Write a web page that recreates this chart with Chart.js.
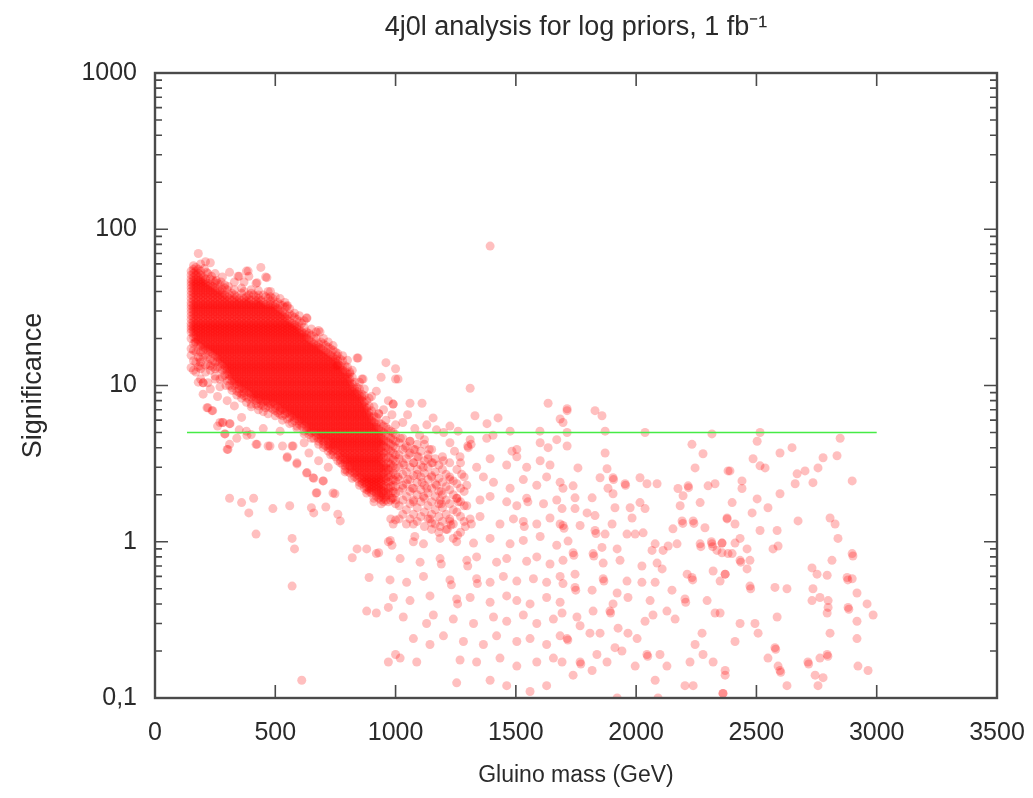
<!DOCTYPE html>
<html>
<head>
<meta charset="utf-8">
<script src="https://cdn.jsdelivr.net/npm/chart.js@4/dist/chart.umd.min.js"></script>
<style>
  html, body { margin: 0; padding: 0; background: #ffffff; }
  #wrap { width: 1033px; height: 798px; }
</style>
</head>
<body>
<div id="wrap"><canvas id="c" width="1033" height="798"></canvas></div>
<script>
// ---------------- DATA ----------------
const chartTitle = '4j0l analysis for log priors, 1 fb\u207B\u00B9';
const xAxisTitle = 'Gluino mass (GeV)';
const yAxisTitle = 'Significance';

const xTickValues = [0, 500, 1000, 1500, 2000, 2500, 3000, 3500];
const yTickValues = [0.1, 1, 10, 100, 1000];
const yTickLabels = ['0,1', '1', '10', '100', '1000'];

// 5-sigma discovery threshold line
const thresholdMass = [133, 3000];
const thresholdSig = [5, 5];

// Dense part of the cloud: [gluino mass, [significance values]]
const denseColumns = [
  [150, [54,51,48,46,44,42,40,38,36,34,32.5,31,29.5,28,26.5,25,24,23,22,20,17.2,15.6,13]],
  [160, [58.5,55.5,52.5,49.5,47,45,43,41,39,37,35,33,31.7,30.2,28.7,27.2,25.7,24.5,23.5,22.5,21.5,20.5,18.5,16.8,14.4,12.5]],
  [170, [57,54,51,48,46,44,42,40,38,36,34,32.5,31,29.5,28,26.5,25,24,23,22,21,20,19,16.4,14.1,12.2]],
  [180, [70,55.5,52.5,49.5,47,45,43,41,39,37,35,33,31.7,30.2,28.7,27.2,25.7,24.5,23.5,22.5,21.5,20.5,19.5,18.5,16.8,15.2,13.1,10.5]],
  [190, [60,54,51,48,46,44,42,40,38,36,34,32.5,31,29.5,28,26.5,25,24,23,22,21,20,19,18,16.4,14.1,12.8,11]],
  [200, [49.5,47,45,43,41,39,37,35,33,31.7,30.2,28.7,27.2,25.7,24.5,23.5,22.5,21.5,20.5,19.5,18.5,17.6,16.8,15.2,10.4,8.8]],
  [210, [62,48,46,44,42,40,38,36,34,32.5,31,29.5,28,26.5,25,24,23,22,21,20,19,18,17.2,15.6,12.2]],
  [220, [52,45,43,41,39,37,35,33,31.7,30.2,28.7,27.2,25.7,24.5,23.5,22.5,21.5,20.5,19.5,18.5,17.6,16.8,15.2,13.7,10.4,7.2]],
  [230, [61,48,44,42,40,38,36,34,32.5,31,29.5,28,26.5,25,24,23,22,21,20,19,18,17.2,16.4,14.8,13.4,9.5]],
  [240, [47,43,41,39,37,35,33,31.7,30.2,28.7,27.2,25.7,24.5,23.5,22.5,21.5,20.5,19.5,18.5,17.6,16.8,16,14.4,13.1,6.9]],
  [250, [52,46,42,40,38,36,34,32.5,31,29.5,28,26.5,25,24,23,22,21,20,19,18,17.2,16.4,15.6,14.1,12.8,11]],
  [260, [45,41,39,37,35,33,31.7,30.2,28.7,27.2,25.7,24.5,23.5,22.5,21.5,20.5,19.5,18.5,17.6,16.8,16,15.2,14.4,13.1,8.5]],
  [270, [44,40,38,36,34,32.5,31,29.5,28,26.5,25,24,23,22,21,20,19,18,17.2,16.4,15.6,14.8,14.1,12.8,9.8,5.8]],
  [280, [49.5,41,39,37,35,33,31.7,30.2,28.7,27.2,25.7,24.5,23.5,22.5,21.5,20.5,19.5,18.5,17.6,16.8,16,15.2,14.4,13.7,12.5,11.3,5.8]],
  [290, [42,38,36,34,32.5,31,29.5,28,26.5,25,24,23,22,21,20,19,18,17.2,16.4,15.6,14.8,14.1,13.4,12.8,11.6,4.9]],
  [300, [41,37,35,33,31.7,30.2,28.7,27.2,25.7,24.5,23.5,22.5,21.5,20.5,19.5,18.5,17.6,16.8,16,15.2,14.4,13.7,13.1,12.5,11.9,10.7,8,3.9]],
  [310, [53,38,36,34,32.5,31,29.5,28,26.5,25,24,23,22,21,20,19,18,17.2,16.4,15.6,14.8,14.1,13.4,12.8,12.2,11.6,11,10,5.7,4.2,1.9]],
  [320, [39,35,33,31.7,30.2,28.7,27.2,25.7,24.5,23.5,22.5,21.5,20.5,19.5,18.5,17.6,16.8,16,15.2,14.4,13.7,13.1,12.5,11.9,11.3,10.7,9.7]],
  [330, [46,38,36,34,32.5,31,29.5,28,26.5,25,24,23,22,21,20,19,18,17.2,16.4,15.6,14.8,14.1,13.4,12.8,12.2,11.6,11,10.5,10,7.4]],
  [340, [37,35,33,31.7,30.2,28.7,27.2,25.7,24.5,23.5,22.5,21.5,20.5,19.5,18.5,17.6,16.8,16,15.2,14.4,13.7,13.1,12.5,11.9,11.3,10.7,10.2,9.2,4.6]],
  [350, [50,36,34,32.5,31,29.5,28,26.5,25,24,23,22,21,20,19,18,17.2,16.4,15.6,14.8,14.1,13.4,12.8,12.2,11.6,11,10.5,10,9.5,9]],
  [360, [39,35,33,31.7,30.2,28.7,27.2,25.7,24.5,23.5,22.5,21.5,20.5,19.5,18.5,17.6,16.8,16,15.2,14.4,13.7,13.1,12.5,11.9,11.3,10.7,10.2,9.7,8.8,6.25,1.78]],
  [370, [46,40,36,34,32.5,31,29.5,28,26.5,25,24,23,22,21,20,19,18,17.2,16.4,15.6,14.8,14.1,13.4,12.8,12.2,11.6,11,10.5,10,9.5,9,8.6]],
  [380, [54,37,35,33,31.7,30.2,28.7,27.2,25.7,24.5,23.5,22.5,21.5,20.5,19.5,18.5,17.6,16.8,16,15.2,14.4,13.7,13.1,12.5,11.9,11.3,10.7,10.2,9.7,9.2,8.4,5.1]],
  [390, [50,38,36,34,32.5,31,29.5,28,26.5,25,24,23,22,21,20,19,18,17.2,16.4,15.6,14.8,14.1,13.4,12.8,12.2,11.6,11,10.5,10,9.5,9,8.2,1.53]],
  [400, [39,35,33,31.7,30.2,28.7,27.2,25.7,24.5,23.5,22.5,21.5,20.5,19.5,18.5,17.6,16.8,16,15.2,14.4,13.7,13.1,12.5,11.9,11.3,10.7,10.2,9.7,9.2,8.8,8.4,7.6,4.85]],
  [410, [38,34,32.5,31,29.5,28,26.5,25,24,23,22,21,20,19,18,17.2,16.4,15.6,14.8,14.1,13.4,12.8,12.2,11.6,11,10.5,10,9.5,9,8.6,8.2,1.9]],
  [420, [45,37,35,33,31.7,30.2,28.7,27.2,25.7,24.5,23.5,22.5,21.5,20.5,19.5,18.5,17.6,16.8,16,15.2,14.4,13.7,13.1,12.5,11.9,11.3,10.7,10.2,9.7,9.2,8.8,8.4,8,7.6,4.2,1.12]],
  [430, [38,36,34,32.5,31,29.5,28,26.5,25,24,23,22,21,20,19,18,17.2,16.4,15.6,14.8,14.1,13.4,12.8,12.2,11.6,11,10.5,10,9.5,9,8.6,8.2,7.4]],
  [440, [57,35,33,31.7,30.2,28.7,27.2,25.7,24.5,23.5,22.5,21.5,20.5,19.5,18.5,17.6,16.8,16,15.2,14.4,13.7,13.1,12.5,11.9,11.3,10.7,10.2,9.7,9.2,8.8,8.4,8,7.6]],
  [450, [38,34,32.5,31,29.5,28,26.5,25,24,23,22,21,20,19,18,17.2,16.4,15.6,14.8,14.1,13.4,12.8,12.2,11.6,11,10.5,10,9.5,9,8.6,8.2,7.8,7.4]],
  [460, [49.5,37,33,31.7,30.2,28.7,27.2,25.7,24.5,23.5,22.5,21.5,20.5,19.5,18.5,17.6,16.8,16,15.2,14.4,13.7,13.1,12.5,11.9,11.3,10.7,10.2,9.7,9.2,8.8,8.4,8,7.2]],
  [470, [40,36,32.5,31,29.5,28,26.5,25,24,23,22,21,20,19,18,17.2,16.4,15.6,14.8,14.1,13.4,12.8,12.2,11.6,11,10.5,10,9.5,9,8.6,8.2,7.8,7.4,4.1]],
  [480, [37,35,33,31.7,30.2,28.7,27.2,25.7,24.5,23.5,22.5,21.5,20.5,19.5,18.5,17.6,16.8,16,15.2,14.4,13.7,13.1,12.5,11.9,11.3,10.7,10.2,9.7,9.2,8.8,8.4,8,7.6,7.2]],
  [490, [36,32.5,31,29.5,28,26.5,25,24,23,22,21,20,19,18,17.2,16.4,15.6,14.8,14.1,13.4,12.8,12.2,11.6,11,10.5,10,9.5,9,8.6,8.2,7.8,7.05,1.63]],
  [500, [37,33,31.7,30.2,28.7,27.2,25.7,24.5,23.5,22.5,21.5,20.5,19.5,18.5,17.6,16.8,16,15.2,14.4,13.7,13.1,12.5,11.9,11.3,10.7,10.2,9.7,9.2,8.8,8.4,8,7.6,7.2,6.9]],
  [510, [34,31,29.5,28,26.5,25,24,23,22,21,20,19,18,17.2,16.4,15.6,14.8,14.1,13.4,12.8,12.2,11.6,11,10.5,10,9.5,9,8.6,8.2,7.8,7.4,6.7]],
  [520, [33,30.2,28.7,27.2,25.7,24.5,23.5,22.5,21.5,20.5,19.5,18.5,17.6,16.8,16,15.2,14.4,13.7,13.1,12.5,11.9,11.3,10.7,10.2,9.7,9.2,8.8,8.4,8,7.6,7.2,6.9,6.55]],
  [530, [32.5,29.5,28,26.5,25,24,23,22,21,20,19,18,17.2,16.4,15.6,14.8,14.1,13.4,12.8,12.2,11.6,11,10.5,10,9.5,9,8.6,8.2,7.8,7.4,7.05,6.4,4.1]],
  [540, [31.7,28.7,27.2,25.7,24.5,23.5,22.5,21.5,20.5,19.5,18.5,17.6,16.8,16,15.2,14.4,13.7,13.1,12.5,11.9,11.3,10.7,10.2,9.7,9.2,8.8,8.4,8,7.6,7.2,6.9,6.55]],
  [550, [32.5,28,26.5,25,24,23,22,21,20,19,18,17.2,16.4,15.6,14.8,14.1,13.4,12.8,12.2,11.6,11,10.5,10,9.5,9,8.6,8.2,7.8,7.4,7.05,6.7,6.1,3.5]],
  [560, [28.7,25.7,24.5,23.5,22.5,21.5,20.5,19.5,18.5,17.6,16.8,16,15.2,14.4,13.7,13.1,12.5,11.9,11.3,10.7,10.2,9.7,9.2,8.8,8.4,8,7.6,7.2,6.9,6.55,6.25,1.7]],
  [570, [28,25,24,23,22,21,20,19,18,17.2,16.4,15.6,14.8,14.1,13.4,12.8,12.2,11.6,11,10.5,10,9.5,9,8.6,8.2,7.8,7.4,7.05,6.7,6.4,5.8,4.1,1.05,0.52]],
  [580, [27.2,24.5,23.5,22.5,21.5,20.5,19.5,18.5,17.6,16.8,16,15.2,14.4,13.7,13.1,12.5,11.9,11.3,10.7,10.2,9.7,9.2,8.8,8.4,8,7.6,7.2,6.9,6.55,6.25,5.95,0.9]],
  [590, [26.5,24,23,22,21,20,19,18,17.2,16.4,15.6,14.8,14.1,13.4,12.8,12.2,11.6,11,10.5,10,9.5,9,8.6,8.2,7.8,7.4,7.05,6.7,6.4,6.1,5.5,3.2]],
  [600, [25.7,23.5,22.5,21.5,20.5,19.5,18.5,17.6,16.8,16,15.2,14.4,13.7,13.1,12.5,11.9,11.3,10.7,10.2,9.7,9.2,8.8,8.4,8,7.6,7.2,6.9,6.55,6.25,5.95,5.65]],
  [610, [25,22,21,20,19,18,17.2,16.4,15.6,14.8,14.1,13.4,12.8,12.2,11.6,11,10.5,10,9.5,9,8.6,8.2,7.8,7.4,7.05,6.7,6.4,6.1,5.8,5.5,0.13]],
  [620, [23.5,21.5,20.5,19.5,18.5,17.6,16.8,16,15.2,14.4,13.7,13.1,12.5,11.9,11.3,10.7,10.2,9.7,9.2,8.8,8.4,8,7.6,7.2,6.9,6.55,6.25,5.95,5.65,5.1]],
  [630, [27,22,21,20,19,18,17.2,16.4,15.6,14.8,14.1,13.4,12.8,12.2,11.6,11,10.5,10,9.5,9,8.6,8.2,7.8,7.4,7.05,6.7,6.4,6.1,5.8,5.5,5.25,2.75]],
  [640, [21.5,19.5,18.5,17.6,16.8,16,15.2,14.4,13.7,13.1,12.5,11.9,11.3,10.7,10.2,9.7,9.2,8.8,8.4,8,7.6,7.2,6.9,6.55,6.25,5.95,5.65,5.4,5.1,4.85]],
  [650, [21,19,18,17.2,16.4,15.6,14.8,14.1,13.4,12.8,12.2,11.6,11,10.5,10,9.5,9,8.6,8.2,7.8,7.4,7.05,6.7,6.4,6.1,5.8,5.5,5.25,5,1.65]],
  [660, [20.5,18.5,17.6,16.8,16,15.2,14.4,13.7,13.1,12.5,11.9,11.3,10.7,10.2,9.7,9.2,8.8,8.4,8,7.6,7.2,6.9,6.55,6.25,5.95,5.65,5.4,5.1,4.6,2.55,1.53]],
  [670, [20,18,17.2,16.4,15.6,14.8,14.1,13.4,12.8,12.2,11.6,11,10.5,10,9.5,9,8.6,8.2,7.8,7.4,7.05,6.7,6.4,6.1,5.8,5.5,5.25,5,4.75,2.05]],
  [680, [22.5,18.5,17.6,16.8,16,15.2,14.4,13.7,13.1,12.5,11.9,11.3,10.7,10.2,9.7,9.2,8.8,8.4,8,7.6,7.2,6.9,6.55,6.25,5.95,5.65,5.4,5.1,4.85,4.6,4.4]],
  [690, [19,17.2,16.4,15.6,14.8,14.1,13.4,12.8,12.2,11.6,11,10.5,10,9.5,9,8.6,8.2,7.8,7.4,7.05,6.7,6.4,6.1,5.8,5.5,5.25,5,4.75,4.5]],
  [700, [18.5,16.8,16,15.2,14.4,13.7,13.1,12.5,11.9,11.3,10.7,10.2,9.7,9.2,8.8,8.4,8,7.6,7.2,6.9,6.55,6.25,5.95,5.65,5.4,5.1,4.85,4.6,4.4,4.2,2.45]],
  [710, [18,16.4,15.6,14.8,14.1,13.4,12.8,12.2,11.6,11,10.5,10,9.5,9,8.6,8.2,7.8,7.4,7.05,6.7,6.4,6.1,5.8,5.5,5.25,5,4.75,4.5,4.1,1.67]],
  [720, [17.6,16,15.2,14.4,13.7,13.1,12.5,11.9,11.3,10.7,10.2,9.7,9.2,8.8,8.4,8,7.6,7.2,6.9,6.55,6.25,5.95,5.65,5.4,5.1,4.85,4.6,4.4,4.2,4,3.8]],
  [730, [17.2,15.6,14.8,14.1,13.4,12.8,12.2,11.6,11,10.5,10,9.5,9,8.6,8.2,7.8,7.4,7.05,6.7,6.4,6.1,5.8,5.5,5.25,5,4.75,4.5,4.3,4.1,3.9]],
  [740, [16.8,15.2,14.4,13.7,13.1,12.5,11.9,11.3,10.7,10.2,9.7,9.2,8.8,8.4,8,7.6,7.2,6.9,6.55,6.25,5.95,5.65,5.4,5.1,4.85,4.6,4.4,4.2,4,3.8,3.6,2.05]],
  [750, [16.4,14.8,14.1,13.4,12.8,12.2,11.6,11,10.5,10,9.5,9,8.6,8.2,7.8,7.4,7.05,6.7,6.4,6.1,5.8,5.5,5.25,5,4.75,4.5,4.3,4.1,3.9,3.5]],
  [760, [16,14.4,13.7,13.1,12.5,11.9,11.3,10.7,10.2,9.7,9.2,8.8,8.4,8,7.6,7.2,6.9,6.55,6.25,5.95,5.65,5.4,5.1,4.85,4.6,4.4,4.2,4,3.8,3.6,1.5]],
  [770, [14.8,13.4,12.8,12.2,11.6,11,10.5,10,9.5,9,8.6,8.2,7.8,7.4,7.05,6.7,6.4,6.1,5.8,5.5,5.25,5,4.75,4.5,4.3,4.1,3.9,3.7,3.5,3.35,3.2,1.36]],
  [780, [14.4,13.1,12.5,11.9,11.3,10.7,10.2,9.7,9.2,8.8,8.4,8,7.6,7.2,6.9,6.55,6.25,5.95,5.65,5.4,5.1,4.85,4.6,4.4,4.2,4,3.8,3.6,3.42,3.12]],
  [790, [13.4,12.2,11.6,11,10.5,10,9.5,9,8.6,8.2,7.8,7.4,7.05,6.7,6.4,6.1,5.8,5.5,5.25,5,4.75,4.5,4.3,4.1,3.9,3.7,3.5,3.35,3.2,3.05,2.9]],
  [800, [13.1,11.9,11.3,10.7,10.2,9.7,9.2,8.8,8.4,8,7.6,7.2,6.9,6.55,6.25,5.95,5.65,5.4,5.1,4.85,4.6,4.4,4.2,4,3.8,3.6,3.42,3.27,3.12,2.82]],
  [810, [12.2,11,10.5,10,9.5,9,8.6,8.2,7.8,7.4,7.05,6.7,6.4,6.1,5.8,5.5,5.25,5,4.75,4.5,4.3,4.1,3.9,3.7,3.5,3.35,3.2,3.05,2.9,2.75]],
  [820, [11.3,10.2,9.7,9.2,8.8,8.4,8,7.6,7.2,6.9,6.55,6.25,5.95,5.65,5.4,5.1,4.85,4.6,4.4,4.2,4,3.8,3.6,3.42,3.27,3.12,2.97,2.82,0.79]],
  [830, [10.5,9.5,9,8.6,8.2,7.8,7.4,7.05,6.7,6.4,6.1,5.8,5.5,5.25,5,4.75,4.5,4.3,4.1,3.9,3.7,3.5,3.35,3.2,3.05,2.9,2.75,2.6]],
  [840, [15,9.7,9.2,8.8,8.4,8,7.6,7.2,6.9,6.55,6.25,5.95,5.65,5.4,5.1,4.85,4.6,4.4,4.2,4,3.8,3.6,3.42,3.27,3.12,2.97,2.82,2.68,2.55,0.9]],
  [850, [9.5,8.6,8.2,7.8,7.4,7.05,6.7,6.4,6.1,5.8,5.5,5.25,5,4.75,4.5,4.3,4.1,3.9,3.7,3.5,3.35,3.2,3.05,2.9,2.75,2.6,2.4]],
  [860, [11,8.8,8.4,8,7.6,7.2,6.9,6.55,6.25,5.95,5.65,5.4,5.1,4.85,4.6,4.4,4.2,4,3.8,3.6,3.42,3.27,3.12,2.97,2.82,2.68,2.55,2.45,2.35]],
  [870, [8.6,7.8,7.4,7.05,6.7,6.4,6.1,5.8,5.5,5.25,5,4.75,4.5,4.3,4.1,3.9,3.7,3.5,3.35,3.2,3.05,2.9,2.75,2.6,2.5,2.4,2.2]],
  [880, [8,7.2,6.9,6.55,6.25,5.95,5.65,5.4,5.1,4.85,4.6,4.4,4.2,4,3.8,3.6,3.42,3.27,3.12,2.97,2.82,2.68,2.55,2.45,2.35,2.25,2.15,0.9,0.36]],
  [890, [7.4,6.7,6.4,6.1,5.8,5.5,5.25,5,4.75,4.5,4.3,4.1,3.9,3.7,3.5,3.35,3.2,3.05,2.9,2.75,2.6,2.5,2.4,2.3,2.2,2.1,0.59]],
  [900, [6.9,6.25,5.95,5.65,5.4,5.1,4.85,4.6,4.4,4.2,4,3.8,3.6,3.42,3.27,3.12,2.97,2.82,2.68,2.55,2.45,2.35,2.25,2.15,2.05]],
  [910, [6.4,5.8,5.5,5.25,5,4.75,4.5,4.3,4.1,3.9,3.7,3.5,3.35,3.2,3.05,2.9,2.75,2.6,2.5,2.4,2.3,2.2,2.1,1.9]],
  [920, [6.25,5.65,5.4,5.1,4.85,4.6,4.4,4.2,4,3.8,3.6,3.42,3.27,3.12,2.97,2.82,2.68,2.55,2.45,2.35,2.25,2.15,2.05,1.95,0.84,0.35]],
  [930, [5.8,5.25,5,4.75,4.5,4.3,4.1,3.9,3.7,3.5,3.35,3.2,3.05,2.9,2.75,2.6,2.5,2.4,2.3,2.2,2.1,2,1.9,0.85]],
  [940, [11.3,5.65,5.1,4.85,4.6,4.4,4.2,4,3.8,3.6,3.42,3.27,3.12,2.97,2.82,2.68,2.55,2.45,2.35,2.25,2.15,2.05,1.95,1.85]],
  [950, [5.5,5,4.5,4.3,4.1,3.7,3.5,3.2,3.05,2.9,2.75,2.6,2.5,2.3,2.2,2.1,2,1.9,1.8]],
  [960, [14,5.4,4.85,4.4,4,3.8,3.42,3.12,2.97,2.82,2.55,2.45,2.25,2.05,1.95,1.85]],
  [970, [5.25,4.75,4.3,3.9,3.5,3.2,2.9,2.75,2.6,2.4,2.2,2.1,2,1.8,1.0,0.38,0.17]],
  [980, [5.1,4.6,4.2,3.8,3.42,3.12,2.97,2.68,2.45,2.25,2.05,1.85]],
  [990, [7.6,5,4.5,4.1,3.7,3.35,3.05,2.75,2.5,2.3,2.1,1.9]],
  [1000, [12.8,11,4.85,4.4,4,3.6,3.27,2.97,2.68,2.45,2.25,2.05,1.85,0.19]],
  [1015, [4.3,3.6,3.0,2.5,2.1,1.7,1.4]],
  [1030, [4.6,3.9,3.2,2.7,2.2,1.85,1.5]],
  [1045, [4.1,3.4,2.8,2.35,1.95,1.6,1.3]],
  [1060, [4.4,3.7,3.0,2.5,2.1,1.75,1.4]],
  [1075, [3.9,3.2,2.65,2.2,1.85,1.5]],
  [1090, [4.2,3.5,2.9,2.4,2.0,1.65,1.35]],
  [1105, [3.8,3.1,2.6,2.15,1.8,1.45]],
  [1120, [4.5,3.3,2.75,2.3,1.9,1.55,1.25]],
  [1135, [3.6,3.0,2.5,2.05,1.7,1.4]],
  [1150, [3.9,3.2,2.65,2.2,1.8,1.5,1.2]],
  [1165, [3.4,2.8,2.35,1.95,1.6,1.3]],
  [1180, [3.1,2.55,2.1,1.75,1.45,1.15]],
  [1195, [3.5,2.9,2.4,2.0,1.65,1.35]],
  [1210, [2.7,2.25,1.85,1.5,1.2]],
  [1225, [3.2,2.6,2.15,1.75,1.4]],
  [1240, [2.45,2.0,1.6,1.3,1.05]],
  [1255, [2.9,2.35,1.9,1.55]],
  [1270, [2.2,1.8,1.45,1.15]],
  [1285, [2.6,2.1,1.7,1.35]]
];

// Sparser individual points: [gluino mass, significance]
const scatterPoints = [
  // light points around the dense cloud (upper fringe)
  [205,56],[215,53],[235,50],[255,47],[275,46],[290,44],[305,43],[330,41],[360,42],[400,41],[430,40.5],[480,40],
  [520,36],[540,34],[560,31],[580,29],[600,28],[620,26],[650,23],[670,22],[700,20],[720,19],[740,18],[780,15.5],
  [800,14.5],[820,12.5],[850,10.5],[870,9.5],[890,8.3],[910,7.3],[930,6.6],
  // lower fringe
  [210,13.5],[230,12.5],[250,11.5],[270,11],[295,10],[320,9.3],[340,8.7],[360,8.3],[380,7.8],[400,7.3],[430,7.0],
  [450,6.8],[470,6.6],[500,6.4],[530,6.0],[560,5.7],[590,5.3],[620,4.9],[650,4.6],[680,4.2],[700,4.0],[730,3.6],
  [760,3.3],[790,2.8],[820,2.55],[850,2.3],[880,2.05],[910,1.8],[940,1.75],
  // scattered light points
  [283,5.8],[312,5.7],[291,4.9],[303,3.9],[382,4.8],[424,4.2],[478,4.1],[549,3.45],[574,4.1],[590,3.15],
  [632,2.77],[657,2.57],[673,2.06],[698,2.45],[748,2.03],[237,6.9],[216,7.2],[200,10.4],[187,13.4],[187,14.8],
  [166,19],[260,5.5],[350,5.2],[450,5.3],[520,5.1],[620,4.3],[640,3.7],[680,3.3],[720,3.0],
  [465,49],[424,45.5],[387,54],[345,50],[549,32],[632,27],[686,22],[756,15.5],[844,15],[756,13.4],[810,11.9],[865,11],
  [900,8.5],[920,9.2],[950,7.0],[970,8.0],[985,6.5],[1000,5.6],[930,6.6],[960,6.0],
  // above the 5 sigma line, 1000-1750 GeV
  [1010,11],[1310,9.6],[1634,7.7],[1713,7.1],[1684,6.1],[1330,6.4],[1426,6.2],[1380,5.7],[1476,5.1],[1600,5.1],
  [1634,4.0],[1484,3.8],[1405,4.8],[1226,5.5],[1156,6.2],[1110,7.7],[1060,7.7],[990,7.6],[1030,5.8],[1050,6.5],
  [1080,5.3],[1130,5.6],[1170,5.2],[1200,5.0],[1260,5.1],[1393,78],
  // 1000-1700 GeV below the line
  [1020,4.6],[1040,4.0],[1060,4.4],[1080,3.9],[1100,4.8],[1120,4.2],[1140,3.9],[1226,4.3],[1310,4.5],[1314,4.2],
  [1379,4.6],[1504,3.9],[1601,4.3],[1670,4.5],
  [1015,3.4],[1035,3.1],[1055,3.6],[1075,3.2],[1095,3.5],[1115,3.0],[1135,3.4],[1155,3.2],[1199,3.3],[1268,3.5],
  [1270,3.2],[1337,3.0],[1393,3.4],[1462,3.1],[1504,3.5],[1545,3.0],[1601,3.3],[1642,3.1],
  [1010,2.6],[1030,2.3],[1050,2.5],[1070,2.2],[1090,2.7],[1110,2.4],[1130,2.2],[1150,2.6],[1170,2.3],[1190,2.1],
  [1226,2.5],[1296,2.3],[1365,2.6],[1407,2.4],[1476,2.2],[1531,2.5],[1587,2.3],[1628,2.6],[1684,2.4],
  [985,1.9],[1000,1.75],[1074,1.8],[1116,1.95],[1185,1.85],[1190,1.75],[1254,1.9],[1260,1.8],[1296,1.7],[1351,1.85],
  [1393,1.95],[1462,1.8],[1504,1.7],[1545,1.9],[1550,1.8],[1615,1.75],[1670,1.85],
  [980,1.4],[990,1.3],[1000,1.38],[1074,1.3],[1143,1.4],[1150,1.32],[1185,1.25],[1226,1.35],[1230,1.28],[1310,1.4],
  [1315,1.3],[1351,1.45],[1434,1.3],[1490,1.4],[1531,1.35],[1535,1.25],[1587,1.3],[1642,1.42],[1684,1.3],
  [978,1.02],[985,0.95],[1074,1.0],[1080,1.08],[1116,0.97],[1185,1.05],[1254,1.0],[1258,1.1],[1324,0.98],[1393,1.05],
  [1476,0.97],[1531,1.02],[1601,1.08],[1670,0.95],
  [1019,0.78],[1102,0.74],[1185,0.78],[1190,0.72],[1296,0.76],[1300,0.7],[1337,0.8],[1420,0.74],[1462,0.78],[1545,0.75],
  [1587,0.8],[1642,0.72],
  [977,0.57],[1046,0.55],[1116,0.6],[1226,0.57],[1232,0.53],[1337,0.58],[1340,0.54],[1393,0.55],[1448,0.6],[1504,0.56],
  [1573,0.58],[1628,0.55],[1684,0.6],
  [991,0.44],[1060,0.42],[1143,0.45],[1254,0.43],[1258,0.4],[1310,0.44],[1393,0.41],[1462,0.45],[1504,0.42],[1559,0.4],
  [1628,0.44],[1684,0.41],
  [1032,0.33],[1129,0.3],[1157,0.34],[1240,0.32],[1324,0.3],[1407,0.33],[1462,0.31],[1531,0.34],[1587,0.3],[1656,0.32],
  [1074,0.24],[1143,0.22],[1199,0.25],[1282,0.23],[1365,0.22],[1420,0.25],[1504,0.23],[1559,0.24],[1628,0.22],[1684,0.25],
  [1019,0.18],[1088,0.17],[1268,0.175],[1337,0.17],[1434,0.18],[1504,0.16],[1587,0.17],[1656,0.18],
  [1254,0.125],[1393,0.13],[1462,0.12],[1559,0.11],[1628,0.12],
  [1300,4.1],[1302,4.0],[1245,3.8],[1275,2.7],[1215,1.2],[1290,1.25],
  // 1690-2400 GeV
  [1713,6.9],[1829,6.9],[1858,6.4],[1696,5.8],[1713,5.0],[1871,5.1],[2037,5.0],[2315,4.9],[1713,4.1],[1871,3.7],
  [2232,4.2],[2278,3.66],[2245,2.97],[2382,2.84],[1758,2.97],[1879,2.93],[1904,2.57],[1906,2.5],[1850,2.57],[1954,2.35],
  [1956,2.3],[2016,2.57],[2045,2.35],[2087,2.35],[1883,2.2],[1904,2.03],[1696,2.2],[1738,2.28],[1746,1.91],[1817,1.91],
  [2174,2.19],[2216,2.28],[2218,2.22],[2195,1.97],[2299,2.28],[2328,2.35],[2016,1.78],[2037,1.63],[1975,1.65],[1912,1.65],
  [2183,1.70],[2266,1.78],[1692,1.63],[1746,1.63],[1796,1.53],[1829,1.47],[1983,1.42],[1696,1.27],[1700,1.22],[1767,1.27],
  [1829,1.18],[1833,1.13],[1871,1.12],[1900,1.30],[1962,1.12],[1996,1.12],[2029,1.14],[2191,1.36],[2194,1.31],[2237,1.36],
  [2240,1.31],[2153,1.21],[2286,1.23],[2378,1.42],[1717,1.01],[1738,0.85],[1741,0.82],[1821,0.84],[1824,0.81],[1858,0.92],
  [1863,0.73],[1921,0.9],[1933,0.76],[1696,0.76],[2079,0.97],[2066,0.88],[2112,0.88],[2133,0.94],[2170,0.97],[2266,0.97],
  [2269,0.93],[2315,0.97],[2318,0.93],[2313,1.0],[2357,0.98],[2336,0.88],[2382,0.84],[2087,0.73],[2108,0.67],[2024,0.70],
  [1746,0.62],[1863,0.58],[1866,0.56],[1962,0.56],[2024,0.55],[2079,0.55],[2212,0.62],[2232,0.59],[2235,0.57],[2320,0.65],
  [2370,0.62],[1696,0.54],[1746,0.51],[1749,0.49],[1817,0.49],[1921,0.47],[1966,0.44],[2058,0.42],[2149,0.49],[2203,0.43],
  [2206,0.41],[2295,0.42],[1692,0.35],[1754,0.33],[1821,0.36],[1891,0.36],[1894,0.35],[1904,0.40],[2037,0.31],[2070,0.34],
  [2128,0.36],[2162,0.32],[2328,0.35],[1713,0.24],[1716,0.235],[1767,0.29],[1808,0.26],[1850,0.26],[1925,0.28],[1966,0.26],
  [2004,0.24],[2045,0.19],[2048,0.185],[2099,0.19],[1767,0.17],[1770,0.165],[1837,0.19],[1879,0.17],[1912,0.21],[1941,0.2],
  [1996,0.16],[2128,0.16],[2224,0.17],[2245,0.22],[2274,0.26],[2278,0.19],[2320,0.17],[2370,0.15],[1738,0.14],[1817,0.15],
  [2079,0.13],[2203,0.12],[2237,0.12],[1921,0.10],[2091,0.10],[2361,0.107],[1692,0.17],
  // 2350-3000 GeV
  [2515,5.0],[2503,4.4],[2848,4.6],[2598,3.7],[2648,4.0],[2486,3.4],[2515,3.06],[2536,2.97],[2390,2.84],[2777,3.45],
  [2756,2.97],[2835,3.55],[2669,2.72],[2702,2.84],[2735,2.39],[2661,2.35],[2898,2.45],[2440,2.45],[2440,2.19],[2503,1.88],
  [2598,2.03],[2399,1.78],[2548,1.65],[2482,1.53],[2378,1.4],[2411,1.3],[2673,1.36],[2806,1.42],[2827,1.3],[2515,1.18],
  [2586,1.18],[2357,0.98],[2411,0.98],[2432,1.05],[2839,1.05],[2569,0.9],[2590,0.94],[2461,0.9],[2357,0.85],[2399,0.84],
  [2432,0.76],[2435,0.74],[2473,0.76],[2898,0.84],[2901,0.81],[2814,0.76],[2461,0.67],[2731,0.68],[2752,0.62],[2794,0.61],
  [2370,0.62],[2349,0.56],[2877,0.59],[2880,0.57],[2898,0.58],[2473,0.52],[2476,0.5],[2577,0.51],[2627,0.5],[2735,0.5],
  [2918,0.47],[2731,0.42],[2764,0.44],[2798,0.42],[2798,0.38],[2794,0.35],[2881,0.38],[2884,0.37],[2960,0.40],[2985,0.34],
  [2586,0.33],[2349,0.35],[2432,0.3],[2494,0.3],[2918,0.31],[2507,0.26],[2411,0.23],[2806,0.26],[2918,0.24],[2577,0.21],
  [2580,0.205],[2548,0.18],[2794,0.19],[2797,0.185],[2764,0.18],[2714,0.17],[2717,0.165],[2590,0.16],[2598,0.15],[2601,0.146],
  [2370,0.14],[2744,0.14],[2777,0.135],[2627,0.12],[2756,0.12],[2922,0.16],[2964,0.15],[2361,0.107]
];

// ---------------- BUILD ----------------
const cloud = [];
denseColumns.forEach(([m, sigs]) => sigs.forEach(s => cloud.push({ x: m, y: s })));
scatterPoints.forEach(([m, s]) => cloud.push({ x: m, y: s }));
const threshold = thresholdMass.map((m, i) => ({ x: m, y: thresholdSig[i] }));

const FONT = "'Liberation Sans', Arial, Helvetica, sans-serif";
const INK = '#2a2a2a';

const frameTicks = {
  id: 'frameTicks',
  afterDatasetsDraw(chart) {
    const { ctx, chartArea, scales } = chart;
    const { left, right, top, bottom } = chartArea;
    const xs = scales.x, ys = scales.y;
    ctx.save();
    ctx.strokeStyle = '#4a4a4a';
    ctx.lineWidth = 1.6;
    ctx.beginPath();
    const MAJ = 13, MIN = 7;
    xs.ticks.forEach(t => {
      const px = xs.getPixelForValue(t.value);
      ctx.moveTo(px, bottom); ctx.lineTo(px, bottom - MAJ);
      ctx.moveTo(px, top); ctx.lineTo(px, top + MAJ);
    });
    ys.ticks.forEach(t => {
      const py = ys.getPixelForValue(t.value);
      ctx.moveTo(left, py); ctx.lineTo(left + MAJ, py);
      ctx.moveTo(right, py); ctx.lineTo(right - MAJ, py);
    });
    for (let i = 0; i < yTickValues.length - 1; i++) {
      const d = yTickValues[i];
      for (let k = 2; k < 10; k++) {
        const py = ys.getPixelForValue(d * k);
        ctx.moveTo(left, py); ctx.lineTo(left + MIN, py);
        ctx.moveTo(right, py); ctx.lineTo(right - MIN, py);
      }
    }
    ctx.stroke();
    ctx.lineWidth = 2.4;
    ctx.strokeRect(left, top, right - left, bottom - top);
    ctx.restore();
  }
};

new Chart(document.getElementById('c'), {
  type: 'scatter',
  data: {
    datasets: [
      {
        type: 'line',
        data: threshold,
        borderColor: 'rgb(70,235,70)',
        borderWidth: 1.6,
        pointRadius: 0,
        fill: false
      },
      {
        data: cloud,
        backgroundColor: 'rgba(255,0,0,0.25)',
        borderWidth: 0,
        pointRadius: 4.5
      }
    ]
  },
  options: {
    responsive: false,
    animation: false,
    events: [],
    layout: { padding: { left: 0, right: 36, top: 0, bottom: 0 } },
    plugins: {
      legend: { display: false },
      tooltip: { enabled: false },
      title: {
        display: true,
        text: chartTitle,
        fullSize: false,
        color: INK,
        font: { family: FONT, size: 27, weight: 'normal' },
        padding: { top: 11, bottom: 29.6 }
      }
    },
    scales: {
      x: {
        type: 'linear',
        min: 0, max: 3500,
        afterBuildTicks: s => { s.ticks = xTickValues.map(v => ({ value: v })); },
        afterFit: s => { s.height = 100; s.paddingLeft = 0; s.paddingRight = 0; },
        grid: { display: false, drawTicks: false },
        border: { display: false },
        ticks: { color: INK, font: { family: FONT, size: 25 }, padding: 20, maxRotation: 0, callback: v => String(v) },
        title: { display: true, text: xAxisTitle, color: INK, font: { family: FONT, size: 23 }, padding: { top: 0, bottom: 9 } }
      },
      y: {
        type: 'logarithmic',
        min: 0.1, max: 1000,
        afterBuildTicks: s => { s.ticks = yTickValues.map(v => ({ value: v })); },
        afterFit: s => { s.width = 155; },
        grid: { display: false, drawTicks: false },
        border: { display: false },
        ticks: {
          color: INK, font: { family: FONT, size: 25 }, padding: 18,
          callback: (v) => { const i = yTickValues.indexOf(v); return i >= 0 ? yTickLabels[i] : ''; }
        },
        title: { display: true, text: yAxisTitle, color: INK, font: { family: FONT, size: 27 }, padding: { top: 17, bottom: 0 } }
      }
    }
  },
  plugins: [frameTicks]
});
</script>
</body>
</html>
